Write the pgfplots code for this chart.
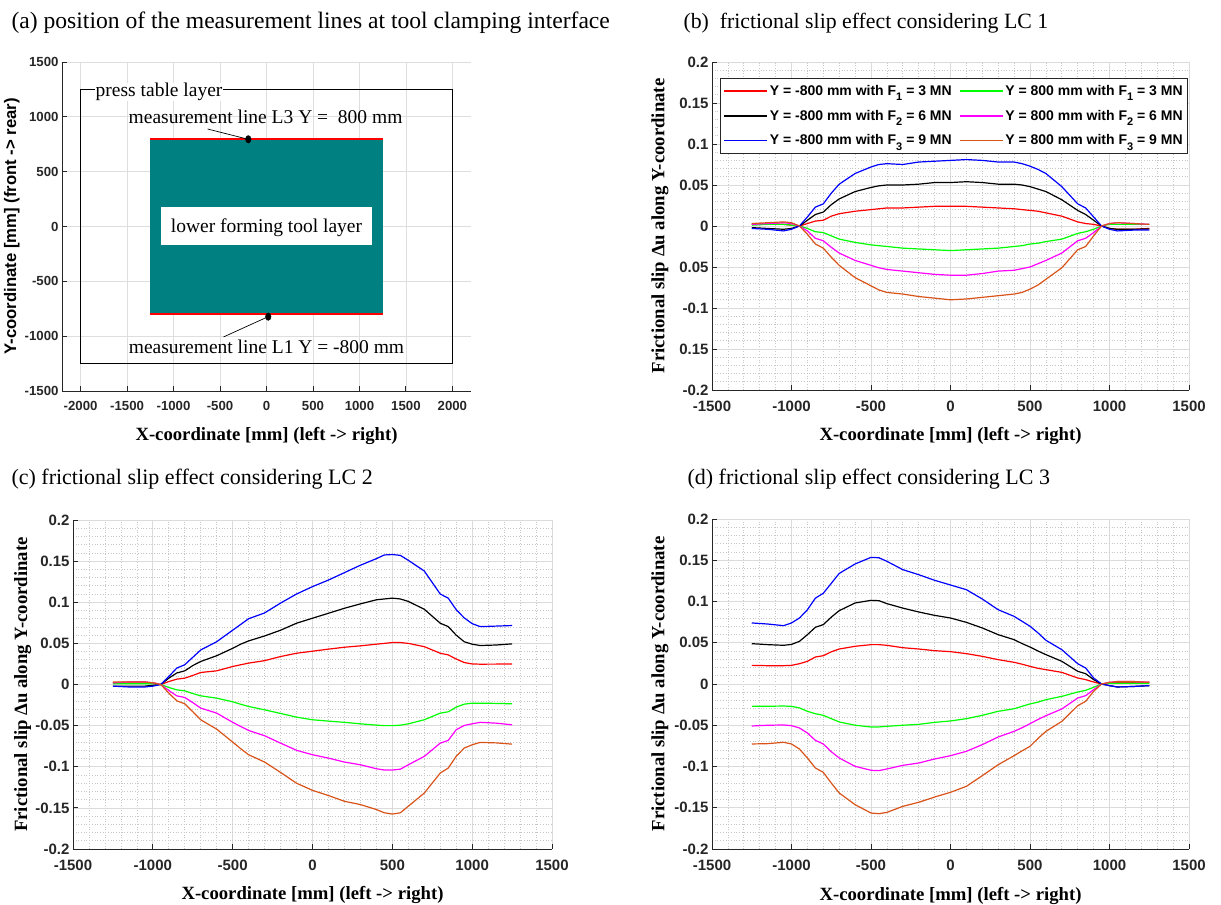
\documentclass[border=0pt]{standalone}
\usepackage{pgfplots}
\pgfplotsset{compat=1.18}
\usepackage{pgfplotstable}
\usepackage{fontspec}
\setmainfont{Liberation Serif}
\newfontfamily\arialfont{Liberation Sans}

\definecolor{mred}{rgb}{1,0,0}
\definecolor{mgreen}{rgb}{0,1,0}
\definecolor{mmag}{rgb}{1,0,1}
\definecolor{mblue}{rgb}{0,0,1}
\definecolor{morange}{rgb}{0.85,0.325,0.098}
\definecolor{mteal}{rgb}{0,0.5,0.5}
\definecolor{axcol}{rgb}{0.15,0.15,0.15}

% frictional slip along the measurement lines, LC 1
% r,k,b: Y = -800 mm (F1,F2,F3); g,m,o: Y = 800 mm (F1,F2,F3)
\pgfplotstableread{
x      r       g       k       m       b       o
-1250  0.002   0.001  -0.002   0.002  -0.003   0.003
-1150  0.003   0.002  -0.003   0.003  -0.004   0.004
-1050  0.002   0.002  -0.004   0.004  -0.006   0.005
-1000  0.001   0.001  -0.003   0.003  -0.004   0.004
-950   0       0       0       0       0       0
-900   0.003  -0.003   0.007  -0.006   0.011  -0.010
-850   0.006  -0.007   0.014  -0.015   0.023  -0.022
-800   0.007  -0.008   0.017  -0.018   0.027  -0.027
-750   0.012  -0.012   0.026  -0.026   0.040  -0.038
-700   0.015  -0.016   0.033  -0.033   0.051  -0.048
-600   0.018  -0.020   0.042  -0.042   0.064  -0.063
-500   0.020  -0.023   0.047  -0.048   0.072  -0.073
-450   0.021  -0.024   0.049  -0.051   0.075  -0.078
-400   0.022  -0.025   0.050  -0.053   0.076  -0.081
-300   0.022  -0.027   0.050  -0.055   0.075  -0.083
-200   0.023  -0.028   0.051  -0.057   0.078  -0.086
-100   0.024  -0.029   0.053  -0.059   0.079  -0.088
0      0.024  -0.030   0.053  -0.060   0.080  -0.090
100    0.024  -0.029   0.054  -0.060   0.081  -0.089
200    0.023  -0.028   0.053  -0.058   0.080  -0.087
300    0.022  -0.027   0.051  -0.055   0.078  -0.085
400    0.021  -0.025   0.051  -0.054   0.078  -0.083
450    0.020  -0.024   0.050  -0.052   0.076  -0.081
500    0.019  -0.022   0.048  -0.050   0.073  -0.077
550    0.018  -0.021   0.045  -0.046   0.069  -0.072
600    0.016  -0.019   0.042  -0.042   0.064  -0.065
700    0.012  -0.016   0.032  -0.033   0.048  -0.051
800    0.005  -0.009   0.019  -0.018   0.027  -0.029
850    0.003  -0.007   0.014  -0.015   0.022  -0.025
900    0.002  -0.004   0.007  -0.008   0.011  -0.012
950    0       0       0       0       0       0
1000  -0.003   0.002  -0.003   0.003  -0.004   0.003
1050  -0.004   0.002  -0.004   0.004  -0.006   0.004
1150  -0.004   0.002  -0.004   0.003  -0.005   0.003
1250  -0.003   0.002  -0.0035  0.002  -0.005   0.002
}\slipLCone

% LC 2
\pgfplotstableread{
x      r       g        k       m        b       o
-1250  0.002   0.001   -0.002   0.002   -0.002   0.003
-1150  0.003   0.001   -0.002   0.003   -0.003   0.003
-1050  0.003   0.001   -0.002   0.003   -0.003   0.003
-1000  0.002   0.001   -0.001   0.002   -0.002   0.002
-950   0       0        0       0        0       0
-900   0.0036 -0.0036   0.0077 -0.0073   0.0097 -0.0105
-850   0.0065 -0.0065   0.014  -0.0138   0.020  -0.0198
-800   0.0077 -0.0077   0.0166 -0.0158   0.024  -0.0235
-750   0.011  -0.011    0.023  -0.022    0.033  -0.033
-700   0.0146 -0.0138   0.028  -0.0287   0.042  -0.0429
-600   0.0166 -0.0166   0.035  -0.0348   0.052  -0.0543
-500   0.0219 -0.021    0.044  -0.046    0.066  -0.070
-450   0.024  -0.024    0.049  -0.051    0.073  -0.078
-400   0.026  -0.0267   0.053  -0.0559   0.080  -0.0854
-300   0.029  -0.0308   0.059  -0.0623   0.087  -0.0943
-200   0.034  -0.0352   0.066  -0.0713   0.099  -0.1069
-100   0.038  -0.0397   0.0745 -0.080    0.110  -0.120
0      0.0405 -0.0429   0.0806 -0.0854   0.119  -0.1287
100    0.043  -0.0445   0.0866 -0.0895   0.127  -0.135
200    0.0453 -0.046    0.0927 -0.0943   0.136  -0.142
300    0.047  -0.0478   0.098  -0.0976   0.145  -0.146
400    0.049  -0.0494   0.103  -0.1024   0.153  -0.152
450    0.050  -0.050    0.104  -0.104    0.1575 -0.156
500    0.051  -0.050    0.105  -0.104    0.158  -0.1575
550    0.051  -0.0495   0.104  -0.103    0.157  -0.156
600    0.050  -0.0478   0.101  -0.0976   0.151  -0.148
700    0.046  -0.0429   0.0915 -0.0874   0.138  -0.132
800    0.038  -0.0348   0.0745 -0.0713   0.110  -0.1077
850    0.036  -0.0332   0.0704 -0.068    0.105  -0.1016
900    0.031  -0.0275   0.060  -0.055    0.091  -0.0874
950    0.0267 -0.0239   0.052  -0.0498   0.081  -0.0773
1000   0.025  -0.0227   0.049  -0.0478   0.074  -0.0733
1050   0.0247 -0.0227   0.0474 -0.046    0.0704 -0.0704
1150   0.0248 -0.023    0.048  -0.047    0.071  -0.071
1250   0.025  -0.0235   0.0494 -0.049    0.0717 -0.0725
}\slipLCtwo

% LC 3
\pgfplotstableread{
x      r       g        k       m        b       o
-1250  0.0226 -0.0271   0.0489 -0.0509   0.074  -0.0727
-1150  0.0222 -0.027    0.0477 -0.050    0.0727 -0.0723
-1050  0.0222 -0.0267   0.0469 -0.0497   0.0707 -0.0707
-1000  0.0226 -0.0271   0.048  -0.0505   0.074  -0.0727
-950   0.0246 -0.029    0.0517 -0.0533   0.080  -0.0788
-900   0.0275 -0.0331   0.0598 -0.0594   0.090  -0.0897
-850   0.0327 -0.036    0.0687 -0.0683   0.104  -0.1018
-800   0.0343 -0.038    0.072  -0.0727   0.110  -0.1071
-750   0.039  -0.042    0.081  -0.082    0.122  -0.120
-700   0.0424 -0.046    0.0889 -0.0897   0.134  -0.1321
-600   0.0457 -0.050    0.0982 -0.0998   0.1455 -0.1463
-500   0.0477 -0.0521   0.1014 -0.1046   0.1535 -0.1564
-450   0.0477 -0.052    0.101  -0.105    0.153  -0.1572
-400   0.0469 -0.0513   0.0974 -0.103    0.1487 -0.1556
-300   0.044  -0.050    0.092  -0.0986   0.1386 -0.1483
-200   0.0424 -0.0489   0.0873 -0.0958   0.1325 -0.1434
-100   0.0404 -0.0465   0.0832 -0.0909   0.1257 -0.137
0      0.0392 -0.0448   0.080  -0.0869   0.120  -0.1313
100    0.0368 -0.042    0.0747 -0.0816   0.1143 -0.124
200    0.0335 -0.038    0.0679 -0.0735   0.103  -0.1111
300    0.0295 -0.0331   0.0598 -0.0642   0.090  -0.0978
400    0.0263 -0.030    0.0537 -0.0574   0.082  -0.0869
450    0.024  -0.027    0.049  -0.053    0.076  -0.081
500    0.0214 -0.0242   0.0448 -0.0481   0.070  -0.0756
550    0.019  -0.022    0.040  -0.043    0.062  -0.066
600    0.0174 -0.019    0.0356 -0.0384   0.053  -0.0574
700    0.0141 -0.015    0.0275 -0.0303   0.0416 -0.0453
800    0.0073 -0.0097   0.0154 -0.017    0.0246 -0.0263
850    0.0053 -0.0077   0.0125 -0.0141   0.0194 -0.021
900    0.0024 -0.004    0.0053 -0.0069   0.0073 -0.0089
950    0       0        0       0        0       0
1000   0.001   0.001   -0.002   0.002   -0.002   0.002
1050   0.002   0.001   -0.0036  0.003   -0.0036  0.003
1150   0.002   0.001   -0.003   0.003   -0.003   0.003
1250   0.002   0.001   -0.002   0.002   -0.002   0.002
}\slipLCthree

\pgfplotsset{
  matlabaxis/.style={
    scale only axis,
    axis lines=left,
    axis line style={-, axcol, line width=0.9pt},
    tick align=inside,
    major tick length=5pt,
    minor tick length=0pt,
    tick style={axcol, line width=0.9pt},
    xticklabel style={yshift=-7pt},
  },
  slipaxis/.style={
    matlabaxis,
    xmin=-1500, xmax=1500, ymin=-0.2, ymax=0.2,
    xtick={-1500,-1000,-500,0,500,1000,1500},
    xticklabels={-1500,-1000,-500,0,500,1000,1500},
    ytick={-0.2,-0.15,-0.1,-0.05,0,0.05,0.1,0.15,0.2},
    yticklabels={-0.2,-0.15,-0.1,-0.05,0,0.05,0.1,0.15,0.2},
    minor x tick num=4, minor y tick num=4,
    grid=both,
    major grid style={line width=0.7pt, black!14},
    minor grid style={line width=0.7pt, black!22, dotted},
    ticklabel style={font=\arialfont\bfseries\fontsize{15}{17}\selectfont, text=axcol},
    xlabel={X-coordinate [mm] (left -> right)},
    ylabel={Frictional slip Δu along Y-coordinate},
    xlabel style={font=\bfseries\fontsize{18.7}{21}\selectfont, at={(axis description cs:0.5,-0.155)}, anchor=base},
    ylabel style={font=\bfseries\fontsize{18.7}{21}\selectfont, at={(axis description cs:-0.1,0.5)}, anchor=base, fill=white, inner xsep=1pt, inner ysep=2pt},
  },
  slipline/.style={line width=1.2pt},
}

\newcommand{\slipcurves}[1]{%
  \addplot[slipline, color=mred]    table[x=x,y=r]{#1};
  \addplot[slipline, color=mgreen]  table[x=x,y=g]{#1};
  \addplot[slipline, color=black]   table[x=x,y=k]{#1};
  \addplot[slipline, color=mmag]    table[x=x,y=m]{#1};
  \addplot[slipline, color=mblue]   table[x=x,y=b]{#1};
  \addplot[slipline, color=morange] table[x=x,y=o]{#1};
}

% legend sample: a plain 43pt line in the given colour
\newcommand{\sample}[1]{\addlegendimage{legend image code/.code={\draw[#1, line width=1.6pt] (0pt,0pt) -- (43pt,0pt);}}}
% lowered index for the force symbols in the legend
\newcommand{\idx}[1]{\raisebox{-0.75ex}{\fontsize{11}{12}\selectfont #1}}

\begin{document}
\begin{tikzpicture}
\useasboundingbox (0pt,0pt) rectangle (1221pt,905pt);

% panel titles
\node[anchor=base west, font=\fontsize{23.6}{26}\selectfont] at (8pt,876pt) {(a) position of the measurement lines at tool clamping interface};
\node[anchor=base west, font=\fontsize{21.8}{26}\selectfont] at (680pt,876pt) {(b)\ \ frictional slip effect considering LC 1};
\node[anchor=base west, font=\fontsize{22}{26}\selectfont] at (8pt,420pt) {(c) frictional slip effect considering LC 2};
\node[anchor=base west, font=\fontsize{22}{26}\selectfont] at (684pt,420pt) {(d) frictional slip effect considering LC 3};

% (a) layout of the press table and the lower forming tool
\begin{axis}[
  matlabaxis,
  at={(62pt,514pt)}, anchor=south west,
  width=409pt, height=329pt,
  xmin=-2200, xmax=2200, ymin=-1500, ymax=1500,
  xtick={-2000,-1500,-1000,-500,0,500,1000,1500,2000},
  xticklabels={-2000,-1500,-1000,-500,0,500,1000,1500,2000},
  ytick={-1500,-1000,-500,0,500,1000,1500},
  yticklabels={-1500,-1000,-500,0,500,1000,1500},
  grid=major,
  major grid style={line width=0.7pt, black!13},
  ticklabel style={font=\arialfont\bfseries\fontsize{13.2}{15}\selectfont, text=axcol},
  xlabel={X-coordinate [mm] (left -> right)},
  ylabel={Y-coordinate [mm] (front -> rear)},
  xlabel style={font=\bfseries\fontsize{18.7}{21}\selectfont, at={(axis description cs:0.5,-0.152)}, anchor=base},
  ylabel style={font=\arialfont\bfseries\fontsize{16.7}{19}\selectfont, at={(axis description cs:-0.112,0.5)}, anchor=base},
]
\addplot[black, line width=1.6pt] coordinates {(-2000,-1250) (2000,-1250) (2000,1250) (-2000,1250) (-2000,-1250)};
\addplot[fill=mteal, draw=none] coordinates {(-1250,-800) (1250,-800) (1250,800) (-1250,800)} -- cycle;
\addplot[fill=white, draw=none] coordinates {(-1140,-170) (1130,-170) (1130,180) (-1140,180)} -- cycle;
\addplot[mred, line width=1.8pt] coordinates {(-1250,800) (1250,800)};
\addplot[mred, line width=1.8pt] coordinates {(-1250,-800) (1250,-800)};
\addplot[black, line width=0.7pt] coordinates {(-634,889) (-196,795)};
\addplot[black, line width=0.7pt] coordinates {(-462,-1007) (19,-822)};
\addplot[only marks, mark=*, mark size=2.8pt, mark options={yscale=1.35, black}] coordinates {(-196,795) (19,-822)};
\node[anchor=base west, fill=white, inner xsep=1pt, inner ysep=0pt, font=\fontsize{19.5}{22}\selectfont] at (axis cs:-1850,1184) {press table layer};
\node[anchor=base, font=\fontsize{19.5}{22}\selectfont] at (axis cs:-10,935) {measurement line L3 Y = \ 800 mm};
\node[anchor=base, font=\fontsize{19.5}{22}\selectfont] at (axis cs:0,-1162) {measurement line L1 Y = -800 mm};
\node[anchor=base, font=\fontsize{19.5}{22}\selectfont] at (axis cs:0,-59) {lower forming tool layer};
\end{axis}

% (b) LC 1
\begin{axis}[
  slipaxis,
  at={(712pt,515pt)}, anchor=south west,
  width=477pt, height=328pt,
  ylabel style={inner ysep=11pt},
  legend columns=2,
  legend cell align=left,
  legend style={at={(rel axis cs:0.0168,0.951)}, anchor=north west,
    draw=axcol, fill=white,
    font=\arialfont\bfseries\fontsize{14}{16}\selectfont,
    inner xsep=3pt, inner ysep=5pt, row sep=9pt,
    /tikz/every even column/.append style={column sep=5pt}},
]
% legend samples, in the order red/green, black/magenta, blue/orange
\sample{mred}     \addlegendentry{Y = -800 mm with F\idx{1} = 3 MN}
\sample{mgreen}   \addlegendentry{Y = 800 mm with F\idx{1} = 3 MN}
\sample{black}    \addlegendentry{Y = -800 mm with F\idx{2} = 6 MN}
\sample{mmag}     \addlegendentry{Y = 800 mm with F\idx{2} = 6 MN}
\sample{mblue}    \addlegendentry{Y = -800 mm with F\idx{3} = 9 MN}
\sample{morange}  \addlegendentry{Y = 800 mm with F\idx{3} = 9 MN}
\slipcurves{\slipLCone}
\end{axis}

% (c) LC 2
\begin{axis}[
  slipaxis,
  at={(73pt,56pt)}, anchor=south west,
  width=479pt, height=329pt,
  ylabel style={at={(axis description cs:-0.096,0.5)}, inner ysep=4pt},
]
\slipcurves{\slipLCtwo}
\end{axis}

% (d) LC 3
\begin{axis}[
  slipaxis,
  at={(712pt,56pt)}, anchor=south west,
  width=477pt, height=330pt,
]
\slipcurves{\slipLCthree}
\end{axis}
\end{tikzpicture}
\end{document}
